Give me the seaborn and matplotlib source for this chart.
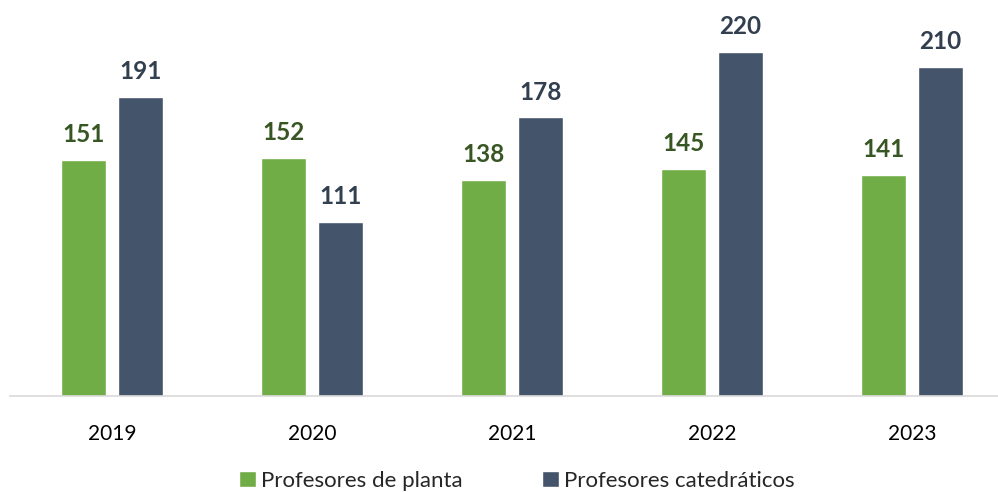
import matplotlib
matplotlib.use("Agg")
import matplotlib.pyplot as plt
import seaborn as sns
import pandas as pd
from matplotlib.patches import Patch

years = ["2019", "2020", "2021", "2022", "2023"]
planta = [151, 152, 138, 145, 141]
catedraticos = [191, 111, 178, 220, 210]
series = ["Profesores de planta", "Profesores catedráticos"]
colors = ["#70AD47", "#44546A"]
label_colors = ["#375623", "#323F4F"]

df = pd.DataFrame({
    "year": years * 2,
    "value": planta + catedraticos,
    "serie": [series[0]] * len(years) + [series[1]] * len(years),
})

sns.set_theme(style="white")
plt.rcParams["font.family"] = ["Lato", "DejaVu Sans"]

fig = plt.figure(figsize=(9.98, 4.92), dpi=100)
ax = fig.add_axes([10 / 998, 96 / 492, 988 / 998, 396 / 492])

sns.barplot(data=df, x="year", y="value", hue="serie", palette=colors,
            width=0.57, gap=0.21, ax=ax, legend=False, saturation=1)

for cont, lc in zip(ax.containers, label_colors):
    ax.bar_label(cont, padding=10, fontsize=17.5, fontweight="bold", color=lc)

ax.set_xlim(-0.51, 4.43)
ax.set_ylim(0, 253)
ax.set_xlabel("")
ax.set_ylabel("")
ax.set_yticks([])
for s in ["top", "right", "left"]:
    ax.spines[s].set_visible(False)
ax.spines["bottom"].set_color("#D9D9D9")
ax.spines["bottom"].set_linewidth(1.2)
ax.tick_params(axis="x", length=0, pad=20, labelsize=15, colors="#000000")

handles = [Patch(facecolor=c, label=s) for c, s in zip(colors, series)]
fig.legend(handles=handles, loc="center", bbox_to_anchor=(517 / 998, 1 - 481 / 492),
           ncol=2, frameon=False, fontsize=16, handlelength=0.75, handleheight=0.75,
           handletextpad=0.25, columnspacing=3.57)

fig.savefig("out.png", dpi=100)
